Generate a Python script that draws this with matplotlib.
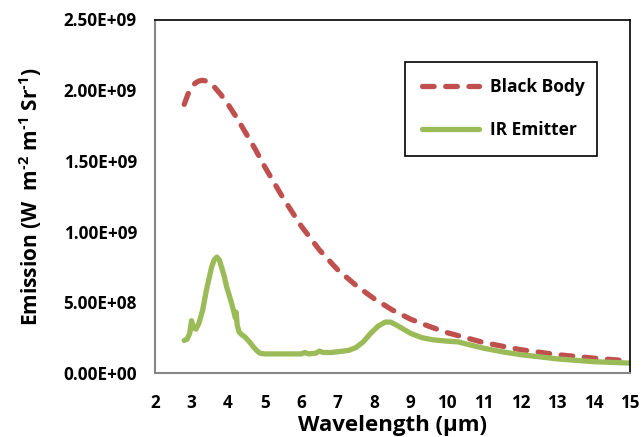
import matplotlib
matplotlib.use("Agg")
import matplotlib.pyplot as plt
from matplotlib.ticker import FuncFormatter

plt.rcParams['font.family'] = ['Open Sans', 'DejaVu Sans']
plt.rcParams['mathtext.fontset'] = 'custom'
plt.rcParams['mathtext.rm'] = 'Open Sans:bold'
plt.rcParams['mathtext.bf'] = 'Open Sans:bold'
plt.rcParams['mathtext.default'] = 'bf'

# Black body emission (W m^-2 m^-1 Sr^-1) vs wavelength (um)
bb_wavelength = [2.8, 2.9, 3.0, 3.1, 3.2, 3.3, 3.4, 3.5, 3.6, 3.8, 4.0, 4.25, 4.5,
                 4.75, 5.0, 5.5, 6.0, 6.5, 7.0, 7.5, 8.0, 8.5, 9.0, 9.5, 10.0,
                 11.0, 12.0, 13.0, 14.0, 15.0]
bb_emission = [1.90e9, 1.97e9, 2.02e9, 2.05e9, 2.065e9, 2.07e9, 2.065e9, 2.05e9,
               2.03e9, 1.97e9, 1.90e9, 1.80e9, 1.69e9, 1.58e9, 1.46e9, 1.24e9,
               1.04e9, 0.87e9, 0.73e9, 0.62e9, 0.525e9, 0.445e9, 0.38e9, 0.33e9,
               0.285e9, 0.215e9, 0.165e9, 0.13e9, 0.105e9, 0.085e9]

# Measured IR emitter emission
ir_wavelength = [2.80, 2.88, 2.95, 3.00, 3.05, 3.12, 3.20, 3.30, 3.41, 3.55, 3.62,
                 3.69, 3.76, 3.82, 3.90, 3.96, 4.03, 4.10, 4.16, 4.20, 4.22, 4.25,
                 4.30, 4.38, 4.46, 4.55, 4.62, 4.69, 4.78, 4.87, 5.0, 5.5, 6.0,
                 6.1, 6.2, 6.4, 6.5, 6.6, 6.8, 7.0, 7.3, 7.5, 7.7, 7.9, 8.1, 8.3,
                 8.45, 8.6, 8.8, 9.0, 9.3, 9.6, 10.0, 10.3, 10.6, 11.0, 11.5, 12.0,
                 12.5, 13.0, 13.5, 14.0, 14.5, 15.0]
ir_emission = [0.23e9, 0.24e9, 0.28e9, 0.37e9, 0.32e9, 0.31e9, 0.35e9, 0.44e9,
               0.59e9, 0.75e9, 0.80e9, 0.82e9, 0.80e9, 0.75e9, 0.68e9, 0.61e9,
               0.55e9, 0.49e9, 0.43e9, 0.39e9, 0.43e9, 0.34e9, 0.29e9, 0.27e9,
               0.255e9, 0.23e9, 0.21e9, 0.185e9, 0.16e9, 0.14e9, 0.135e9, 0.135e9,
               0.135e9, 0.145e9, 0.135e9, 0.14e9, 0.155e9, 0.145e9, 0.145e9,
               0.15e9, 0.16e9, 0.18e9, 0.22e9, 0.28e9, 0.33e9, 0.36e9, 0.36e9,
               0.34e9, 0.31e9, 0.28e9, 0.25e9, 0.235e9, 0.225e9, 0.22e9, 0.20e9,
               0.175e9, 0.15e9, 0.13e9, 0.115e9, 0.10e9, 0.09e9, 0.08e9, 0.075e9,
               0.07e9]

x_ticks = list(range(2, 16))
y_ticks = [0.0, 0.5e9, 1.0e9, 1.5e9, 2.0e9, 2.5e9]

red = '#C0504D'
green = '#9BBB59'

fig = plt.figure(figsize=(6.42, 4.37), dpi=100)
ax = fig.add_axes([155 / 642, 1 - 373 / 437, 475 / 642, 353.5 / 437])

ax.plot(bb_wavelength, bb_emission, color=red, lw=3.8, linestyle=(0, (2.2, 2.2)),
        dash_capstyle='round', solid_joinstyle='round', label='Black Body')
ax.plot(ir_wavelength, ir_emission, color=green, lw=3.8,
        solid_capstyle='round', solid_joinstyle='round', label='IR Emitter')

ax.set_xlim(2, 15)
ax.set_ylim(0, 2.5e9)
ax.set_xticks(x_ticks)
ax.set_yticks(y_ticks)


def sci(v, pos):
    if v == 0:
        return '0.00E+00'
    return '%.2E' % v


ax.yaxis.set_major_formatter(FuncFormatter(sci))
ax.tick_params(length=0, labelsize=12.3)
ax.tick_params(axis='y', pad=13)
ax.tick_params(axis='x', pad=15)
for lbl in ax.get_xticklabels() + ax.get_yticklabels():
    lbl.set_fontweight('bold')

for side in ['left', 'bottom']:
    ax.spines[side].set_color('#868686')
    ax.spines[side].set_linewidth(1.5)
for side in ['top', 'right']:
    ax.spines[side].set_color('black')
    ax.spines[side].set_linewidth(1.2)

ax.set_xlabel('Wavelength (µm)', fontsize=16, fontweight='bold', labelpad=2.5)
ax.set_ylabel('Emission (W  m$^{\u2010 2}$ m$^{\u2010 1}$ Sr$^{\u2010 1}$)',
              fontsize=15, fontweight='bold', labelpad=14)

leg = ax.legend(loc='upper left', bbox_to_anchor=(0.509, 0.905, 0.44, 0.0),
                mode='expand', fancybox=False, edgecolor='black', framealpha=1,
                prop={'weight': 'bold', 'size': 12.5}, handlelength=3.3,
                labelspacing=1.45, borderpad=0.95, handletextpad=0.6)
leg.get_frame().set_linewidth(1.2)

fig.savefig('out.png', dpi=100)
